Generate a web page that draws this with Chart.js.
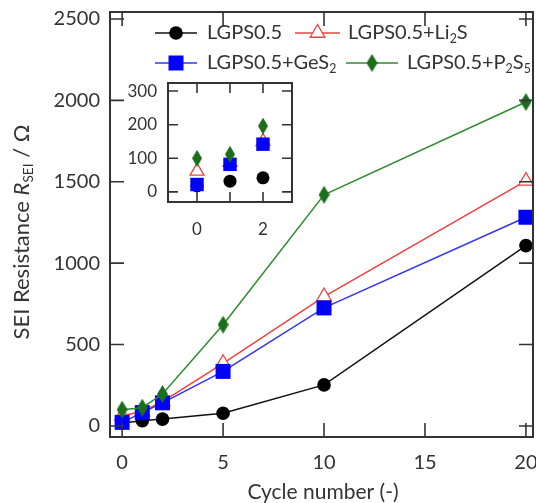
<!DOCTYPE html>
<html>
<head>
<meta charset="utf-8">
<script src="https://cdn.jsdelivr.net/npm/chart.js@4.4.1/dist/chart.umd.min.js"></script>
<style>
  html, body { margin: 0; padding: 0; background: #fff; }
  #wrap { position: relative; width: 536px; height: 503px; overflow: hidden; }
  #main { position: absolute; left: 0; top: 0; }
  #inset { position: absolute; left: 100px; top: 74px; }
</style>
</head>
<body>
<div id="wrap">
  <canvas id="main" width="536" height="503"></canvas>
  <canvas id="inset" width="200" height="170"></canvas>
</div>
<script>
const FONT = 'Lato, "Open Sans", sans-serif';
const INK = '#333333';

// SEI resistance (ohm) vs cycle number
const cycles = [0, 1, 2, 5, 10, 20];
const rBase = [18, 32, 42, 78, 252, 1108];
const rLi2S = [62, 88, 150, 385, 795, 1505];
const rGeS2 = [22, 82, 142, 335, 725, 1282];
const rP2S5 = [100, 112, 196, 622, 1420, 1990];

const mainXTicks = [0, 5, 10, 15, 20];
const mainYTicks = [0, 500, 1000, 1500, 2000, 2500];
const insetXTicks = [0, 1, 2];
const insetXLabels = [0, 2];
const insetYTicks = [0, 100, 200, 300];

// legend names as rich text runs: [text, kind]
const names = [
  [['LGPS0.5', '']],
  [['LGPS0.5+Li', ''], ['2', 'sub'], ['S', '']],
  [['LGPS0.5+GeS', ''], ['2', 'sub']],
  [['LGPS0.5+P', ''], ['2', 'sub'], ['S', ''], ['5', 'sub']],
];

function thinDiamond(w, h, color) {
  const c = document.createElement('canvas');
  c.width = w; c.height = h;
  const g = c.getContext('2d');
  g.fillStyle = color;
  g.beginPath();
  g.moveTo(w / 2, 0); g.lineTo(w, h / 2); g.lineTo(w / 2, h); g.lineTo(0, h / 2);
  g.closePath(); g.fill();
  return c;
}

const styles = [
  { line: '#111111', fill: '#000000', stroke: '#000000', point: 'circle', r: 6.8, bw: 0, order: 3 },
  { line: '#f04040', fill: '#ffffff', stroke: '#f04040', point: 'triangle', r: 8.5, bw: 1.3, order: 2 },
  { line: '#3434f0', fill: '#0000ff', stroke: '#0000ff', point: 'rect', r: 10.6, bw: 0, order: 1 },
  { line: '#2f8a2f', fill: '#1c6e1c', stroke: '#1c6e1c', point: thinDiamond(11, 18, '#1c6e1c'), r: 8, bw: 0, order: 0 },
];
const insetPoints = [
  { point: 'circle', r: 6.5 },
  { point: 'triangle', r: 8 },
  { point: 'rect', r: 9.5 },
  { point: thinDiamond(10, 17, '#1c6e1c'), r: 8 },
];
const series = [rBase, rLi2S, rGeS2, rP2S5];

function drawRich(ctx, runs, x, y, size) {
  let cx = x;
  for (const [t, k] of runs) {
    const fs = k === 'sub' ? size * 0.62 : size;
    ctx.font = (k === 'it' ? 'italic ' : '') + fs + 'px ' + FONT;
    ctx.fillText(t, cx, k === 'sub' ? y + size * 0.3 : y);
    cx += ctx.measureText(t).width;
  }
  return cx - x;
}
function measureRich(ctx, runs, size) {
  let w = 0;
  for (const [t, k] of runs) {
    const fs = k === 'sub' ? size * 0.62 : size;
    ctx.font = (k === 'it' ? 'italic ' : '') + fs + 'px ' + FONT;
    w += ctx.measureText(t).width;
  }
  return w;
}

// box around the plot with inward ticks on all four sides
function framePlugin(xTicks, yTicks, len) {
  return {
    id: 'frame',
    afterDatasetsDraw(chart) {
      const { ctx, chartArea: a, scales } = chart;
      ctx.save();
      ctx.strokeStyle = INK;
      ctx.lineWidth = 1.6;
      ctx.beginPath();
      for (const v of xTicks) {
        const px = scales.x.getPixelForValue(v);
        ctx.moveTo(px, a.bottom); ctx.lineTo(px, a.bottom - len);
        ctx.moveTo(px, a.top); ctx.lineTo(px, a.top + len);
      }
      for (const v of yTicks) {
        const py = scales.y.getPixelForValue(v);
        ctx.moveTo(a.left, py); ctx.lineTo(a.left + len, py);
        ctx.moveTo(a.right, py); ctx.lineTo(a.right - len, py);
      }
      ctx.stroke();
      ctx.lineWidth = 2;
      ctx.strokeRect(a.left, a.top, a.right - a.left, a.bottom - a.top);
      ctx.restore();
    }
  };
}

const mainDecor = {
  id: 'mainDecor',
  afterDraw(chart) {
    const ctx = chart.ctx;
    ctx.save();
    ctx.fillStyle = INK;
    ctx.textBaseline = 'middle';

    // axis titles
    ctx.font = '21px ' + FONT;
    ctx.textAlign = 'center';
    ctx.fillText('Cycle number (-)', 323, 492);

    const ytitle = [['SEI Resistance ', ''], ['R', 'it'], ['SEI', 'sub'], [' / \u03A9', '']];
    ctx.translate(22, 232);
    ctx.rotate(-Math.PI / 2);
    ctx.textAlign = 'left';
    const w = measureRich(ctx, ytitle, 22);
    drawRich(ctx, ytitle, -w / 2, 0, 22);
    ctx.restore();

    // legend, two rows
    const items = [
      { i: 0, x1: 155, x2: 197, y: 33, tx: 207 },
      { i: 1, x1: 295, x2: 340, y: 33, tx: 348 },
      { i: 2, x1: 155, x2: 197, y: 63, tx: 207 },
      { i: 3, x1: 346, x2: 398, y: 63, tx: 407 },
    ];
    ctx.save();
    ctx.textBaseline = 'middle';
    ctx.textAlign = 'left';
    for (const it of items) {
      const s = styles[it.i];
      ctx.strokeStyle = s.line;
      ctx.lineWidth = 1.5;
      ctx.beginPath();
      ctx.moveTo(it.x1, it.y); ctx.lineTo(it.x2, it.y);
      ctx.stroke();
      const mx = (it.x1 + it.x2) / 2;
      if (typeof s.point === 'string') {
        ctx.fillStyle = s.fill;
        ctx.strokeStyle = s.stroke;
        ctx.lineWidth = s.bw;
        Chart.helpers.drawPoint(ctx, { pointStyle: s.point, radius: s.r, rotation: 0, borderWidth: s.bw }, mx, it.y);
      } else {
        ctx.drawImage(s.point, mx - s.point.width / 2, it.y - s.point.height / 2);
      }
      ctx.fillStyle = INK;
      drawRich(ctx, names[it.i], it.tx, it.y, 20);
    }
    ctx.restore();
  }
};

const plain = v => String(v);

new Chart(document.getElementById('main'), {
  type: 'line',
  data: {
    datasets: series.map((vals, i) => ({
      data: cycles.map((c, j) => ({ x: c, y: vals[j] })),
      borderColor: styles[i].line,
      borderWidth: 1.5,
      pointStyle: styles[i].point,
      pointRadius: styles[i].r,
      pointBackgroundColor: styles[i].fill,
      pointBorderColor: styles[i].stroke,
      pointBorderWidth: styles[i].bw,
      order: styles[i].order,
      clip: false,
      tension: 0,
    }))
  },
  options: {
    responsive: false,
    animation: false,
    devicePixelRatio: 1,
    layout: { autoPadding: false, padding: { top: 12, right: 3, left: 0, bottom: 0 } },
    plugins: { legend: { display: false }, tooltip: { enabled: false } },
    scales: {
      x: {
        type: 'linear', min: -0.6, max: 20.35,
        grid: { display: false, drawTicks: false }, border: { display: false },
        ticks: { color: INK, font: { family: FONT, size: 20 }, padding: 14, autoSkip: false, maxRotation: 0, callback: plain },
        afterBuildTicks: s => { s.ticks = mainXTicks.map(v => ({ value: v })); },
        afterFit: s => { s.height = 66; s.paddingLeft = 0; s.paddingRight = 0; },
      },
      y: {
        min: -68, max: 2543,
        grid: { display: false, drawTicks: false }, border: { display: false },
        ticks: { color: INK, font: { family: FONT, size: 20 }, padding: 10, callback: plain },
        afterBuildTicks: s => { s.ticks = mainYTicks.map(v => ({ value: v })); },
        afterFit: s => { s.width = 110; s.paddingTop = 0; s.paddingBottom = 0; },
      }
    }
  },
  plugins: [framePlugin(mainXTicks, mainYTicks, 14), mainDecor]
});

// inset: first three cycles, markers only
new Chart(document.getElementById('inset'), {
  type: 'line',
  data: {
    datasets: series.map((vals, i) => ({
      data: cycles.slice(0, 3).map((c, j) => ({ x: c, y: vals[j] })),
      showLine: false,
      pointStyle: insetPoints[i].point,
      pointRadius: insetPoints[i].r,
      pointBackgroundColor: styles[i].fill,
      pointBorderColor: styles[i].stroke,
      pointBorderWidth: styles[i].bw,
      order: styles[i].order,
      clip: false,
    }))
  },
  options: {
    responsive: false,
    animation: false,
    devicePixelRatio: 1,
    layout: { autoPadding: false, padding: { top: 9, right: 8, left: 0, bottom: 0 } },
    plugins: { legend: { display: false }, tooltip: { enabled: false } },
    scales: {
      x: {
        type: 'linear', min: -0.88, max: 2.88,
        grid: { display: false, drawTicks: false }, border: { display: false },
        ticks: { color: INK, font: { family: FONT, size: 17 }, padding: 17, autoSkip: false, maxRotation: 0, callback: plain },
        afterBuildTicks: s => { s.ticks = insetXLabels.map(v => ({ value: v })); },
        afterFit: s => { s.height = 42; s.paddingLeft = 0; s.paddingRight = 0; },
      },
      y: {
        min: -30, max: 324,
        grid: { display: false, drawTicks: false }, border: { display: false },
        ticks: { color: INK, font: { family: FONT, size: 17 }, padding: 11, callback: plain },
        afterBuildTicks: s => { s.ticks = insetYTicks.map(v => ({ value: v })); },
        afterFit: s => { s.width = 68; s.paddingTop = 0; s.paddingBottom = 0; },
      }
    }
  },
  plugins: [framePlugin(insetXTicks, insetYTicks, 10)]
});
</script>
</body>
</html>
